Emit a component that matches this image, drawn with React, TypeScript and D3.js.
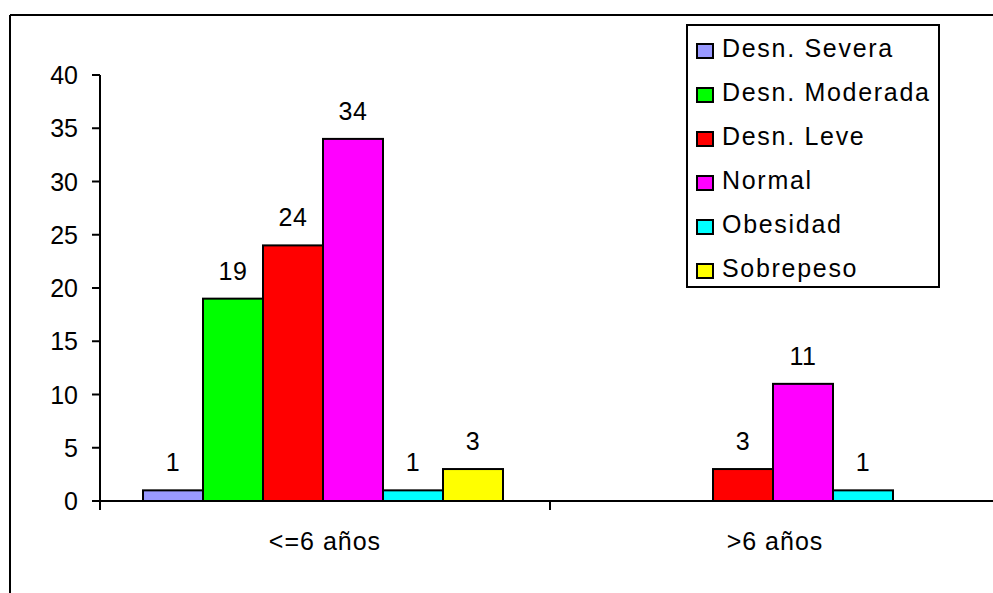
import React from "react";
import * as d3 from "d3";

const groups = ["<=6 años", ">6 años"];
const series = ["Desn. Severa", "Desn. Moderada", "Desn. Leve", "Normal", "Obesidad", "Sobrepeso"];
const severa = [1, 0];
const moderada = [19, 0];
const leve = [24, 3];
const normal = [34, 11];
const obesidad = [1, 1];
const sobrepeso = [3, 0];
const colors = ["#9999ff", "#00ff00", "#ff0000", "#ff00ff", "#00ffff", "#ffff00"];
const yTicks = [0, 5, 10, 15, 20, 25, 30, 35, 40];

const seriesValues = [severa, moderada, leve, normal, obesidad, sobrepeso];

const W = 993;
const H = 593;
const FONT = "'Liberation Sans', Arial, sans-serif";

export default function App() {
  const y = d3.scaleLinear().domain([0, 40]).range([501, 75]);
  const x0 = d3.scaleBand<string>().domain(groups).range([100, 1000]);
  const groupWidth = 360;
  const x1 = d3.scaleBand<string>().domain(series).range([0, groupWidth]);
  const offset = (x0.bandwidth() - groupWidth) / 2 - 2;

  const legendX = 687;
  const legendY = 25;
  const legendRow = 44;

  return (
    <svg
      width={W}
      height={H}
      style={{ position: "absolute", left: 0, top: 0, background: "#fff" }}
      fontFamily={FONT}
    >
      <rect x={0} y={0} width={W} height={H} fill="#fff" />
      {/* outer frame */}
      <line x1={10} y1={15} x2={W} y2={15} stroke="#000" strokeWidth={2} />
      <line x1={10} y1={15} x2={10} y2={H} stroke="#000" strokeWidth={2} />

      {/* bars */}
      {groups.map((g, gi) =>
        series.map((s, si) => {
          const v = seriesValues[si][gi];
          if (!v) return null;
          const bx = (x0(g) as number) + offset + (x1(s) as number);
          const bw = x1.bandwidth();
          return (
            <g key={g + s}>
              <rect
                x={bx}
                y={y(v)}
                width={bw}
                height={y(0) - y(v)}
                fill={colors[si]}
                stroke="#000"
                strokeWidth={2}
              />
              <text
                x={bx + bw / 2}
                y={y(v) - 19}
                textAnchor="middle"
                fontSize={25}
                letterSpacing={0.5}
                fill="#000"
              >
                {v}
              </text>
            </g>
          );
        })
      )}

      {/* y axis */}
      <line x1={100} y1={y(40)} x2={100} y2={510} stroke="#000" strokeWidth={2} />
      {yTicks.map((t) => (
        <g key={t}>
          <line x1={92} y1={y(t)} x2={100} y2={y(t)} stroke="#000" strokeWidth={2} />
          <text x={78} y={y(t)} dy="0.36em" textAnchor="end" fontSize={25} fill="#000">
            {t}
          </text>
        </g>
      ))}

      {/* x axis */}
      <line x1={92} y1={y(0)} x2={W} y2={y(0)} stroke="#000" strokeWidth={2} />
      {groups.map((g) => (
        <g key={g}>
          <line x1={(x0(g) as number) + x0.bandwidth()} y1={y(0)} x2={(x0(g) as number) + x0.bandwidth()} y2={510} stroke="#000" strokeWidth={2} />
          <text
            x={(x0(g) as number) + x0.bandwidth() / 2}
            y={550}
            textAnchor="middle"
            fontSize={25}
            letterSpacing={1}
            fill="#000"
          >
            {g}
          </text>
        </g>
      ))}

      {/* legend */}
      <rect x={legendX} y={legendY} width={252} height={262} fill="#fff" stroke="#000" strokeWidth={2} />
      {series.map((s, i) => (
        <g key={s}>
          <rect
            x={697}
            y={legendY + 19 + i * legendRow}
            width={16}
            height={14}
            fill={colors[i]}
            stroke="#000"
            strokeWidth={2}
          />
          <text x={722} y={legendY + 32 + i * legendRow} fontSize={25} letterSpacing={1.7} fill="#000">
            {s}
          </text>
        </g>
      ))}
    </svg>
  );
}
